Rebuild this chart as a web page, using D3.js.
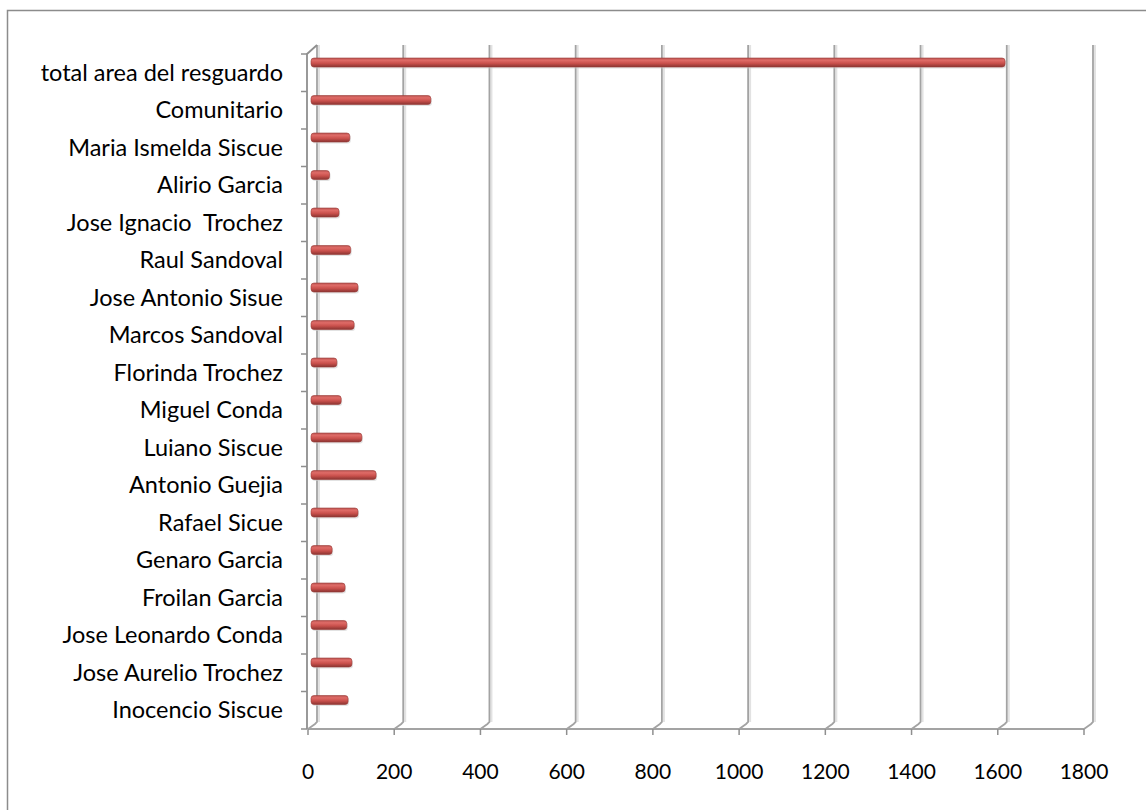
<!DOCTYPE html>
<html>
<head>
<meta charset="utf-8">
<script src="https://cdn.jsdelivr.net/npm/d3@7"></script>
<style>
  body { margin: 0; background: #fff; }
  text { font-family: Lato, "Open Sans", sans-serif; fill: #000; }
</style>
</head>
<body>
<script>
// categories, top to bottom
var categories = ["total area del resguardo", "Comunitario", "Maria Ismelda Siscue", "Alirio Garcia",
  "Jose Ignacio  Trochez", "Raul Sandoval", "Jose Antonio Sisue", "Marcos Sandoval", "Florinda Trochez",
  "Miguel Conda", "Luiano Siscue", "Antonio Guejia", "Rafael Sicue", "Genaro Garcia", "Froilan Garcia",
  "Jose Leonardo Conda", "Jose Aurelio Trochez", "Inocencio Siscue"];
var areas = [1610, 278, 90, 43, 65, 92, 109, 100, 60, 70, 118, 151, 109, 49, 79, 83, 95, 86];
var xTicks = [0, 200, 400, 600, 800, 1000, 1200, 1400, 1600, 1800];

var dim = { w: 1146, h: 810, left: 308, right: 1084, top: 54, bottom: 729, dx: 9, dy: -7 };

var svg = d3.select("body").append("svg")
  .attr("width", dim.w)
  .attr("height", dim.h);

var defs = svg.append("defs");
var grad = defs.append("linearGradient").attr("id", "barGrad")
  .attr("x1", 0).attr("y1", 0).attr("x2", 0).attr("y2", 1);
grad.append("stop").attr("offset", "0%").attr("stop-color", "#b9524f");
grad.append("stop").attr("offset", "25%").attr("stop-color", "#df6b67");
grad.append("stop").attr("offset", "60%").attr("stop-color", "#c9504c");
grad.append("stop").attr("offset", "100%").attr("stop-color", "#8a3431");

// chart border (right/bottom run off the picture)
svg.append("path")
  .attr("d", "M7.5," + dim.h + " L7.5,10.5 L" + dim.w + ",10.5")
  .attr("fill", "none")
  .attr("stroke", "#8c8c8c")
  .attr("stroke-width", 1.5);

var x = d3.scaleLinear().domain([0, 1800]).range([dim.left, dim.right]);
var y = d3.scaleBand().domain(categories).range([dim.top, dim.bottom]);

// gridlines on the back wall, with the little slant down to the floor
var grid = svg.append("g");
grid.selectAll(".shadow").data(xTicks).enter().append("path")
  .attr("d", function(d) {
    var bx = x(d) + dim.dx + 2;
    return "M" + bx + "," + (dim.bottom + dim.dy) + " L" + bx + "," + (dim.top + dim.dy - 2);
  })
  .attr("stroke", "#e2e2e2").attr("stroke-width", 2).attr("fill", "none");
grid.selectAll(".line").data(xTicks).enter().append("path")
  .attr("d", function(d) {
    var fx = x(d), bx = x(d) + dim.dx;
    return "M" + fx + "," + dim.bottom + " L" + (bx - 2) + "," + (dim.bottom + dim.dy + 2) +
      " L" + bx + "," + (dim.bottom + dim.dy) + " L" + bx + "," + (dim.top + dim.dy - 2);
  })
  .attr("stroke", "#a3a3a3").attr("stroke-width", 1.8).attr("fill", "none");

// floor front edge (x axis)
svg.append("line")
  .attr("x1", dim.left).attr("x2", dim.right)
  .attr("y1", dim.bottom).attr("y2", dim.bottom)
  .attr("stroke", "#a3a3a3").attr("stroke-width", 1.8);

// front y axis with top slant
svg.append("path")
  .attr("d", "M" + (dim.left - 1) + "," + dim.bottom + " L" + (dim.left - 1) + "," + dim.top +
    " L" + (dim.left + dim.dx) + "," + (dim.top + dim.dy - 2))
  .attr("fill", "none").attr("stroke", "#8f8f8f").attr("stroke-width", 1.8);

// y ticks at band edges
var edges = categories.map(function(c) { return y(c); }).concat([dim.bottom]);
svg.selectAll(".ytick").data(edges).enter().append("line")
  .attr("x1", dim.left - 7).attr("x2", dim.left - 1)
  .attr("y1", function(d) { return d; }).attr("y2", function(d) { return d; })
  .attr("stroke", "#8f8f8f").attr("stroke-width", 1.5);

// x ticks below the floor
svg.selectAll(".xtick").data(xTicks).enter().append("line")
  .attr("x1", function(d) { return x(d); }).attr("x2", function(d) { return x(d); })
  .attr("y1", dim.bottom).attr("y2", dim.bottom + 6)
  .attr("stroke", "#8f8f8f").attr("stroke-width", 1.5);

// x tick labels
svg.selectAll(".xlabel").data(xTicks).enter().append("text")
  .attr("x", function(d) { return x(d); })
  .attr("y", 779)
  .attr("text-anchor", "middle")
  .style("font-size", "21px")
  .text(function(d) { return d; });

// category labels
svg.selectAll(".ylabel").data(categories).enter().append("text")
  .attr("x", 283)
  .attr("y", function(d) { return y(d) + y.bandwidth() / 2; })
  .attr("dy", "0.35em")
  .attr("text-anchor", "end")
  .style("font-size", "23.5px")
  .style("white-space", "pre")
  .text(function(d) { return d; });

// bars (drawn at mid depth)
var xBar = d3.scaleLinear().domain([0, 1800]).range([dim.left + 3, dim.right + 3]);
var bars = svg.append("g");
bars.selectAll(".barshadow").data(areas).enter().append("rect")
  .attr("x", xBar(0) + 1)
  .attr("y", function(d, i) { return y(categories[i]) + 5.5; })
  .attr("width", function(d) { return xBar(d) - xBar(0); })
  .attr("height", 9)
  .attr("rx", 3)
  .attr("fill", "#cfcfcf").attr("opacity", 0.6);
bars.selectAll(".bar").data(areas).enter().append("rect")
  .attr("x", xBar(0))
  .attr("y", function(d, i) { return y(categories[i]) + 4; })
  .attr("width", function(d) { return xBar(d) - xBar(0); })
  .attr("height", 9)
  .attr("rx", 3)
  .attr("fill", "url(#barGrad)")
  .attr("stroke", "#9c3c39").attr("stroke-width", 0.6);
</script>
</body>
</html>
